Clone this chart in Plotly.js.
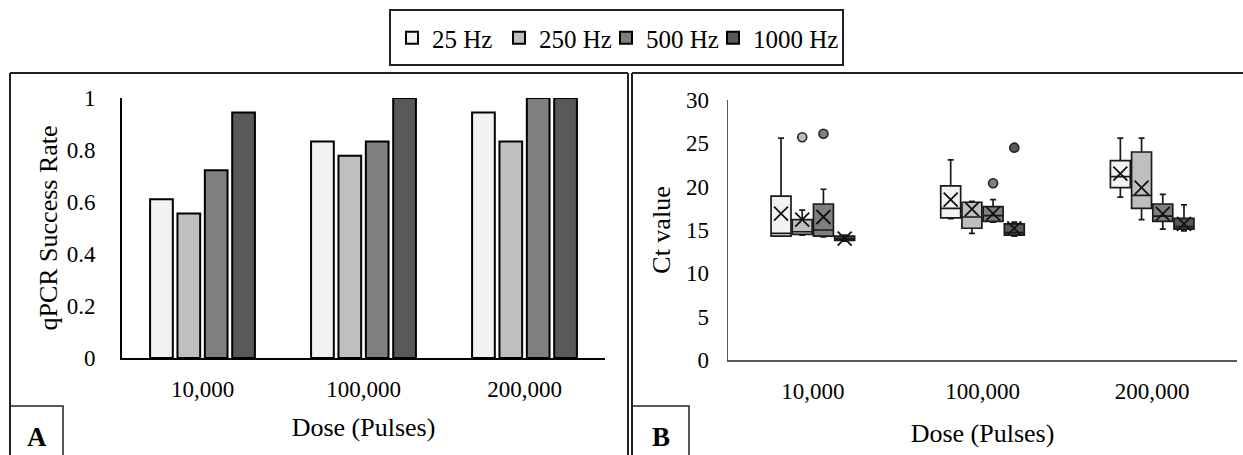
<!DOCTYPE html>
<html>
<head>
<meta charset="utf-8">
<script src="https://cdn.plot.ly/plotly-3.0.1.min.js"></script>
<style>html,body{margin:0;padding:0;background:#fff;}#chart{width:1243px;height:455px;}</style>
</head>
<body>
<div id="chart"></div>
<script>
// ---- Data ----
const doses = ['10,000', '100,000', '200,000'];
const freqs = ['25 Hz', '250 Hz', '500 Hz', '1000 Hz'];
const fillColors = ['#f2f2f2', '#bfbfbf', '#7f7f7f', '#595959'];

// Panel A: qPCR success rate
const success25 = [0.611, 0.833, 0.944];
const success250 = [0.556, 0.778, 0.833];
const success500 = [0.722, 0.833, 1.0];
const success1000 = [0.944, 1.0, 1.0];

// Panel B: Ct value box statistics
const ct25Lower = [14.3, 16.3, 18.8];
const ct25Q1 = [14.3, 16.4, 19.9];
const ct25Median = [14.6, 17.5, 21.15];
const ct25Q3 = [18.9, 20.1, 23.0];
const ct25Upper = [25.6, 23.1, 25.6];
const ct25Mean = [16.9, 18.5, 21.5];
const ct25OutX = [];
const ct25OutY = [];

const ct250Lower = [14.4, 14.6, 16.2];
const ct250Q1 = [14.5, 15.2, 17.5];
const ct250Median = [14.8, 16.5, 19.0];
const ct250Q3 = [16.2, 18.2, 24.0];
const ct250Upper = [17.3, 18.3, 25.6];
const ct250Mean = [16.2, 17.4, 19.9];
const ct250OutX = ['10,000'];
const ct250OutY = [25.7];

const ct500Lower = [14.2, 15.9, 15.1];
const ct500Q1 = [14.3, 16.0, 16.0];
const ct500Median = [15.0, 16.65, 16.6];
const ct500Q3 = [18.0, 17.7, 18.0];
const ct500Upper = [19.7, 18.5, 19.1];
const ct500Mean = [16.5, 16.9, 16.85];
const ct500OutX = ['10,000', '100,000'];
const ct500OutY = [26.1, 20.4];

const ct1000Lower = [13.7, 14.3, 14.9];
const ct1000Q1 = [13.8, 14.4, 15.1];
const ct1000Median = [14.0, 14.7, 15.4];
const ct1000Q3 = [14.3, 15.7, 16.35];
const ct1000Upper = [14.4, 15.9, 17.9];
const ct1000Mean = [14.0, 15.2, 15.7];
const ct1000OutX = ['100,000'];
const ct1000OutY = [24.5];

// ---- Build traces ----
const successSets = [success25, success250, success500, success1000];
const boxSets = [
  {lo: ct25Lower, q1: ct25Q1, md: ct25Median, q3: ct25Q3, hi: ct25Upper, mean: ct25Mean, ox: ct25OutX, oy: ct25OutY},
  {lo: ct250Lower, q1: ct250Q1, md: ct250Median, q3: ct250Q3, hi: ct250Upper, mean: ct250Mean, ox: ct250OutX, oy: ct250OutY},
  {lo: ct500Lower, q1: ct500Q1, md: ct500Median, q3: ct500Q3, hi: ct500Upper, mean: ct500Mean, ox: ct500OutX, oy: ct500OutY},
  {lo: ct1000Lower, q1: ct1000Q1, md: ct1000Median, q3: ct1000Q3, hi: ct1000Upper, mean: ct1000Mean, ox: ct1000OutX, oy: ct1000OutY}
];

const traces = [];
freqs.forEach((f, i) => {
  traces.push({
    type: 'bar', name: f, x: doses, y: successSets[i],
    xaxis: 'x', yaxis: 'y',
    marker: {color: fillColors[i], line: {color: '#000', width: 2}},
    legendwidth: (i === freqs.length - 1) ? 92 : 62,
    showlegend: true, hoverinfo: 'x+y+name'
  });
});
freqs.forEach((f, i) => {
  const s = boxSets[i];
  traces.push({
    type: 'box', name: f, x: doses,
    q1: s.q1, median: s.md, q3: s.q3, lowerfence: s.lo, upperfence: s.hi,
    xaxis: 'x2', yaxis: 'y2', offsetgroup: 'g' + i, alignmentgroup: 'ct',
    fillcolor: fillColors[i], line: {color: '#1a1a1a', width: 1.7},
    whiskerwidth: 0.3, boxpoints: false, showlegend: false
  });
});
freqs.forEach((f, i) => {
  const s = boxSets[i];
  traces.push({
    type: 'scatter', mode: 'markers', name: f + ' mean', x: doses, y: s.mean,
    xaxis: 'x2', yaxis: 'y2', offsetgroup: 'g' + i, alignmentgroup: 'ct',
    marker: {symbol: 'x-thin-open', size: 14, color: '#111', line: {color: '#111', width: 1.8}},
    showlegend: false
  });
  traces.push({
    type: 'scatter', mode: 'markers', name: f + ' outlier', x: s.ox, y: s.oy,
    xaxis: 'x2', yaxis: 'y2', offsetgroup: 'g' + i, alignmentgroup: 'ct',
    marker: {symbol: 'circle', size: 9, color: fillColors[i], line: {color: '#222', width: 1.6}},
    showlegend: false
  });
});

// ---- Layout ----
const W = 1243, H = 455;
const px = v => v / W;
const py = v => 1 - v / H;
const serif = '"Liberation Serif", "Times New Roman", serif';
const tickFont = {family: serif, size: 23, color: '#000'};
const titleFont = {family: serif, size: 26, color: '#000'};

const frameLine = {color: '#222', width: 2};
const shapes = [
  // legend box
  {type: 'rect', xref: 'paper', yref: 'paper', x0: px(390), x1: px(843), y0: py(65), y1: py(10), line: frameLine},
  // panel A frame
  {type: 'line', xref: 'paper', yref: 'paper', x0: px(10), x1: px(10), y0: py(73), y1: py(460), line: frameLine},
  {type: 'line', xref: 'paper', yref: 'paper', x0: px(10), x1: px(628), y0: py(73), y1: py(73), line: frameLine},
  {type: 'line', xref: 'paper', yref: 'paper', x0: px(628), x1: px(628), y0: py(73), y1: py(460), line: frameLine},
  // panel B frame
  {type: 'line', xref: 'paper', yref: 'paper', x0: px(632), x1: px(632), y0: py(73), y1: py(460), line: frameLine},
  {type: 'line', xref: 'paper', yref: 'paper', x0: px(632), x1: px(1250), y0: py(73), y1: py(73), line: frameLine},
  // label boxes
  {type: 'rect', xref: 'paper', yref: 'paper', x0: px(10), x1: px(63), y0: py(460), y1: py(406), line: {color: '#222', width: 1.5}},
  {type: 'rect', xref: 'paper', yref: 'paper', x0: px(632), x1: px(689), y0: py(460), y1: py(406), line: {color: '#222', width: 1.5}}
];

const annotations = [
  {xref: 'paper', yref: 'paper', x: px(37), y: py(437), text: 'A', showarrow: false, xanchor: 'center', yanchor: 'middle',
   font: {family: serif, size: 27, color: '#000', weight: 'bold'}},
  {xref: 'paper', yref: 'paper', x: px(661), y: py(437), text: 'B', showarrow: false, xanchor: 'center', yanchor: 'middle',
   font: {family: serif, size: 27, color: '#000', weight: 'bold'}}
];

const layout = {
  width: W, height: H,
  margin: {l: 0, r: 0, t: 0, b: 0},
  paper_bgcolor: '#fff', plot_bgcolor: 'rgba(0,0,0,0)',
  barmode: 'group', bargap: 0.32, bargroupgap: 0.17,
  boxmode: 'group', boxgap: 0.5, boxgroupgap: 0.06,
  scattermode: 'group', scattergap: 0.5,
  showlegend: true,
  legend: {orientation: 'h', x: px(392), xanchor: 'left', y: py(38), yanchor: 'middle',
           font: {family: serif, size: 25, color: '#000'}, bgcolor: 'rgba(0,0,0,0)', borderwidth: 0,
           entrywidthmode: 'pixels',
           itemclick: false, tracegroupgap: 0},
  xaxis: {domain: [px(122), px(605)], anchor: 'y', type: 'category',
          showline: true, linecolor: '#000', linewidth: 2, ticks: '', showgrid: false, zeroline: false,
          tickfont: tickFont, ticklabelstandoff: 9,
          title: {text: 'Dose (Pulses)', font: titleFont, standoff: 17}},
  yaxis: {domain: [1 - 358 / H, 1 - 98 / H], anchor: 'x', range: [0, 1], dtick: 0.2,
          showline: true, linecolor: '#000', linewidth: 2, ticks: '', showgrid: false, zeroline: false,
          tickfont: tickFont, ticklabelstandoff: 20,
          title: {text: 'qPCR Success Rate', font: titleFont, standoff: 2}},
  xaxis2: {domain: [px(728), px(1237)], anchor: 'y2', type: 'category',
           showline: true, linecolor: '#595959', linewidth: 2, ticks: '', showgrid: false, zeroline: false,
           tickfont: tickFont, ticklabelstandoff: 9,
           title: {text: 'Dose (Pulses)', font: titleFont, standoff: 21}},
  yaxis2: {domain: [1 - 360 / H, 1 - 100 / H], anchor: 'x2', range: [0, 30], dtick: 5,
           showline: true, linecolor: '#595959', linewidth: 1.5, ticks: '', showgrid: false, zeroline: false,
           tickfont: tickFont, ticklabelstandoff: 13,
           title: {text: 'Ct value', font: titleFont, standoff: 8}},
  shapes: shapes,
  annotations: annotations
};

Plotly.newPlot('chart', traces, layout, {displayModeBar: false, staticPlot: true});
</script>
</body>
</html>
